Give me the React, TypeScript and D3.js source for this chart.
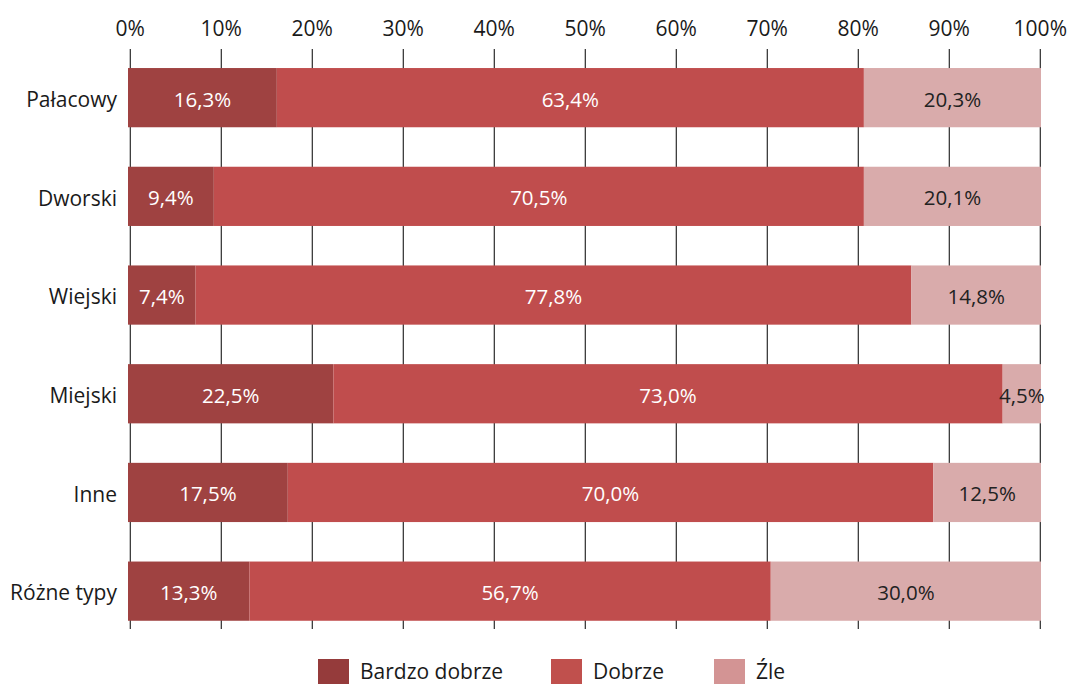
import React from "react";
import * as d3 from "d3";

const categories = ["Pałacowy", "Dworski", "Wiejski", "Miejski", "Inne", "Różne typy"];
const seriesNames = ["Bardzo dobrze", "Dobrze", "Źle"];
// bar lengths as drawn in the picture (%)
const bardzoDobrze = [16.3, 9.4, 7.4, 22.5, 17.5, 13.3];
const dobrze = [64.3, 71.2, 78.4, 73.3, 70.7, 57.1];
const zle = [19.4, 19.4, 14.2, 4.2, 11.8, 29.6];
// printed data labels
const labelsBardzoDobrze = ["16,3%", "9,4%", "7,4%", "22,5%", "17,5%", "13,3%"];
const labelsDobrze = ["63,4%", "70,5%", "77,8%", "73,0%", "70,0%", "56,7%"];
const labelsZle = ["20,3%", "20,1%", "14,8%", "4,5%", "12,5%", "30,0%"];
const tickValues = [0, 10, 20, 30, 40, 50, 60, 70, 80, 90, 100];

const barColors = ["#9f4241", "#c04d4d", "#d9abab"];
const legendColors = ["#953b3b", "#c0504d", "#d39494"];
const labelColors = ["#ffffff", "#ffffff", "#222222"];

const FONT = "'Open Sans', sans-serif";

export default function App() {
  const width = 1072;
  const height = 684;
  const x = d3.scaleLinear().domain([0, 100]).range([130.3, 1040.3]);
  const xBar = d3.scaleLinear().domain([0, 100]).range([128, 1041]);
  const y = d3
    .scaleBand<string>()
    .domain(categories)
    .range([48.3, 640.5])
    .paddingInner(0.4)
    .paddingOuter(0.2);

  const rows = categories.map((c, i) => ({
    cat: c,
    values: [bardzoDobrze[i], dobrze[i], zle[i]],
    labels: [labelsBardzoDobrze[i], labelsDobrze[i], labelsZle[i]],
  }));

  const legendX = [318, 551, 714];

  return (
    <svg
      width={width}
      height={height}
      style={{ position: "absolute", left: 0, top: 0, background: "#fff" }}
      fontFamily={FONT}
    >
      {tickValues.map((t) => (
        <g key={t}>
          <line x1={x(t)} x2={x(t)} y1={49} y2={629} stroke="#2b2b2b" strokeWidth={1.2} />
          <text x={x(t)} y={36} textAnchor="middle" fontSize={21} fill="#1a1a1a">
            {t}%
          </text>
        </g>
      ))}
      {rows.map((r) => {
        const y0 = y(r.cat)!;
        const bh = y.bandwidth();
        const starts: number[] = [];
        let acc = 0;
        r.values.forEach((v) => {
          starts.push(acc);
          acc += v;
        });
        return (
          <g key={r.cat}>
            <text
              x={117}
              y={y0 + bh / 2}
              dy="0.44em"
              textAnchor="end"
              fontSize={21}
              fill="#1a1a1a"
            >
              {r.cat}
            </text>
            {r.values.map((v, si) => (
              <rect
                key={si}
                x={xBar(starts[si])}
                y={y0}
                width={xBar(starts[si] + v) - xBar(starts[si])}
                height={bh}
                fill={barColors[si]}
              />
            ))}
            {r.values.map((v, si) => (
              <text
                key={"l" + si}
                x={xBar(starts[si] + v / 2)}
                y={y0 + bh / 2}
                dy="0.44em"
                textAnchor="middle"
                fontSize={20.5}
                fill={labelColors[si]}
              >
                {r.labels[si]}
              </text>
            ))}
          </g>
        );
      })}
      {seriesNames.map((s, i) => (
        <g key={s}>
          <rect x={legendX[i]} y={659} width={31} height={27} fill={legendColors[i]} />
          <text x={legendX[i] + 42} y={679} fontSize={21} fill="#1a1a1a">
            {s}
          </text>
        </g>
      ))}
    </svg>
  );
}
